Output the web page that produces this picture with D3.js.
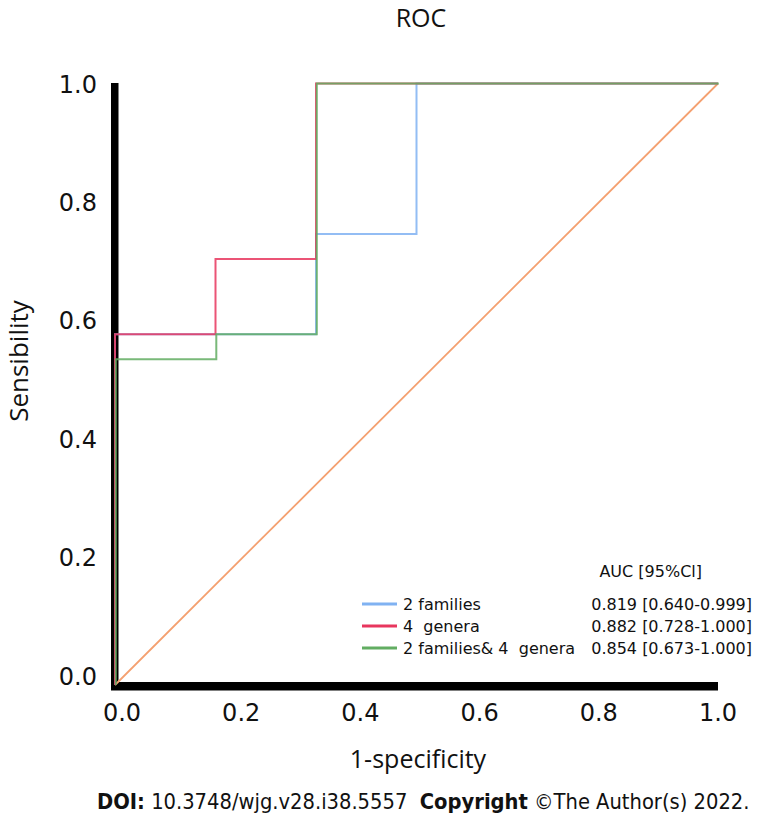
<!DOCTYPE html>
<html><head><meta charset="utf-8">
<script src="https://cdn.jsdelivr.net/npm/d3@7"></script>
<style>body{margin:0;background:#fff}svg{display:block}text{white-space:pre}</style>
</head><body>
<script>
// ---- data ----
const seriesNames = ["2 families", "4  genera", "2 families& 4  genera"];
const aucLabels = ["0.819 [0.640-0.999]", "0.882 [0.728-1.000]", "0.854 [0.673-1.000]"];
const colors = ["#80b2f2", "#e8365e", "#62ad62"];
const fpr2families = [0, 0, 1/3, 1/3, 0.5, 0.5, 1];
const tpr2families = [0, 7/12, 7/12, 0.75, 0.75, 1, 1];
const fpr4genera = [0, 0, 1/6, 1/6, 1/3, 1/3, 1];
const tpr4genera = [0, 7/12, 7/12, 17/24, 17/24, 1, 1];
const fprCombined = [0, 0, 1/6, 1/6, 1/3, 1/3, 1];
const tprCombined = [0, 13/24, 13/24, 7/12, 7/12, 1, 1];
const diagX = [0, 1];
const diagY = [0, 1];
const tickValues = [0, 0.2, 0.4, 0.6, 0.8, 1.0];

const W = 758, H = 816;
const svg = d3.select("body").append("svg").attr("width", W).attr("height", H);

const x = d3.scaleLinear().domain([0, 1]).range([115, 718]);
const y = d3.scaleLinear().domain([0, 1]).range([685, 83.5]);
// label placement scales (labels sit slightly offset from data scale in original)
const xl = d3.scaleLinear().domain([0, 1]).range([122, 718]);
const yl = d3.scaleLinear().domain([0, 1]).range([676, 84]);

// title
svg.append("text").attr("x", 421).attr("y", 27).attr("text-anchor", "middle")
  .attr("font-family", "Open Sans").attr("font-size", 25).attr("fill", "#111").text("ROC");

// thick axes
svg.append("rect").attr("x", 111).attr("y", 83).attr("width", 7.5).attr("height", 607).attr("fill", "#000");
svg.append("rect").attr("x", 111).attr("y", 682).attr("width", 607).attr("height", 8.5).attr("fill", "#000");

// tick labels
svg.append("g").selectAll("text").data(tickValues).join("text")
  .attr("x", 97).attr("y", d => yl(d)).attr("dy", "0.36em").attr("text-anchor", "end")
  .attr("font-family", "DejaVu Sans").attr("font-size", 24).attr("fill", "#111")
  .text(d => d3.format(".1f")(d));
svg.append("g").selectAll("text").data(tickValues).join("text")
  .attr("x", d => xl(d)).attr("y", 712).attr("dy", "0.36em").attr("text-anchor", "middle")
  .attr("font-family", "DejaVu Sans").attr("font-size", 24).attr("fill", "#111")
  .text(d => d3.format(".1f")(d));

// axis titles
svg.append("text").attr("transform", "translate(28,361) rotate(-90)").attr("text-anchor", "middle")
  .attr("font-family", "Open Sans").attr("font-size", 26).attr("fill", "#111").text("Sensibility");
svg.append("text").attr("x", 418).attr("y", 768).attr("text-anchor", "middle")
  .attr("font-family", "Open Sans").attr("font-size", 25).attr("fill", "#111").text("1-specificity");

// curves
const line = d3.line().x(d => x(d[0])).y(d => y(d[1]));
const curves = [
  d3.zip(fpr2families, tpr2families),
  d3.zip(fpr4genera, tpr4genera),
  d3.zip(fprCombined, tprCombined)
];
svg.append("path").datum(d3.zip(diagX, diagY)).attr("d", line)
  .attr("fill", "none").attr("stroke", "#f4a070").attr("stroke-width", 1.8);
curves.forEach((c, i) => {
  svg.append("path").datum(c).attr("d", line).attr("fill", "none")
    .attr("stroke", colors[i]).attr("stroke-width", 2).attr("stroke-opacity", 0.85)
    .attr("transform", i === 2 ? "translate(0.8,0)" : null);
});

// legend
svg.append("text").attr("x", 702).attr("y", 571).attr("dy", "0.36em").attr("text-anchor", "end")
  .attr("font-family", "DejaVu Sans").attr("font-size", 16).attr("fill", "#111").text("AUC [95%Cl]");
const rowsY = [604, 626, 648];
const lg = svg.append("g").selectAll("g").data(seriesNames).join("g")
  .attr("transform", (d, i) => `translate(0,${rowsY[i]})`);
lg.append("line").attr("x1", 362).attr("x2", 397).attr("y1", 0).attr("y2", 0)
  .attr("stroke", (d, i) => colors[i]).attr("stroke-width", 3);
lg.append("text").attr("x", 403).attr("dy", "0.36em")
  .attr("font-family", "DejaVu Sans").attr("font-size", 16).attr("fill", "#111").text(d => d);
lg.append("text").attr("x", 752).attr("dy", "0.36em").attr("text-anchor", "end")
  .attr("font-family", "DejaVu Sans").attr("font-size", 16).attr("fill", "#111").text((d, i) => aucLabels[i]);

// footer
const ft = svg.append("text").attr("x", 97).attr("y", 809)
  .attr("font-family", "DejaVu Sans Condensed, DejaVu Sans").attr("font-size", 20).attr("fill", "#111");
ft.append("tspan").attr("font-weight", "bold").text("DOI:");
ft.append("tspan").text(" 10.3748/wjg.v28.i38.5557  ");
ft.append("tspan").attr("font-weight", "bold").text("Copyright");
ft.append("tspan").text(" ©The Author(s) 2022.");
const fw = ft.node().getComputedTextLength();
ft.attr("font-size", 20 * 653 / fw);
</script>
</body></html>
